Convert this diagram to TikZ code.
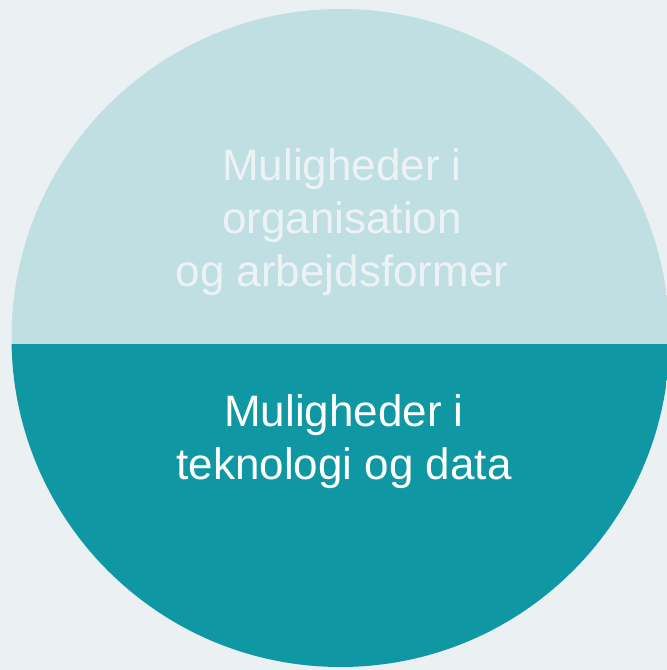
\documentclass[tikz,border=0pt]{standalone}
\usepackage{fontspec}
\setmainfont{Liberation Sans}
\definecolor{bgpale}{HTML}{EBF0F3}
\definecolor{toppale}{HTML}{C0DFE3}
\definecolor{bottomteal}{HTML}{1097A4}
\definecolor{toptext}{HTML}{EDF3F5}
\tikzset{
  halflabel/.style={align=center, anchor=base, inner sep=0pt,
    font=\fontsize{44}{53}\selectfont}
}
\begin{document}
\begin{tikzpicture}[x=1pt, y=1pt]
        % Background
        \fill[bgpale] (0,0) rectangle (667,670);
        \useasboundingbox (0,0) rectangle (667,670);
        
        % Split circle
        \begin{scope}
          \clip (340.5,332) circle (329);
          \fill[toppale] (0,326) rectangle (667,670);
          \fill[bottomteal] (0,0) rectangle (667,326);
        \end{scope}
        
        % Labels
        \node[halflabel, text=toptext] (orglabel) at (342,383)
          {Muligheder i\\organisation\\og arbejdsformer};
        \node[halflabel, text=white] (techlabel) at (344,190)
          {Muligheder i\\teknologi og data};
    \end{tikzpicture}
\end{document}
